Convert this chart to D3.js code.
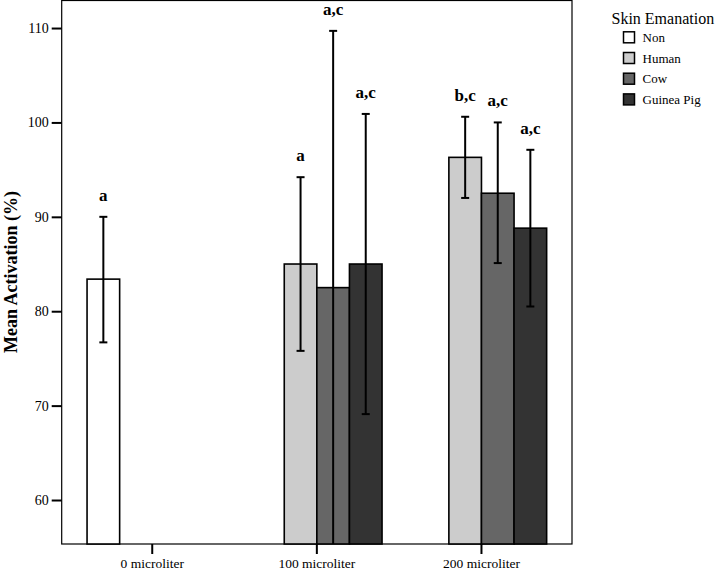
<!DOCTYPE html>
<html><head><meta charset="utf-8">
<script src="https://cdn.jsdelivr.net/npm/d3@7"></script>
<style>html,body{margin:0;padding:0;background:#fff;}svg{display:block;}</style>
</head><body>
<svg id="c" width="720" height="570"></svg>
<script>
const groups = ["0 microliter", "100 microliter", "200 microliter"];
const series = ["Non", "Human", "Cow", "Guinea Pig"];
const seriesColors = ["#ffffff", "#cccccc", "#666666", "#333333"];
// values per series, aligned with groups (null = no bar)
const meanNon = [83.4, null, null];
const meanHuman = [null, 85.0, 96.3];
const meanCow = [null, 82.5, 92.5];
const meanGuinea = [null, 85.0, 88.8];
const upperNon = [90.0, null, null];
const upperHuman = [null, 94.2, 100.6];
const upperCow = [null, 109.7, 100.0];
const upperGuinea = [null, 100.9, 97.1];
const lowerNon = [76.7, null, null];
const lowerHuman = [null, 75.8, 92.0];
const lowerCow = [null, 55.3, 85.1];
const lowerGuinea = [null, 69.1, 80.5];
const lettersNon = ["a", null, null];
const lettersHuman = [null, "a", "b,c"];
const lettersCow = [null, "a,c", "a,c"];
const lettersGuinea = [null, "a,c", "a,c"];
const yTicks = [60, 70, 80, 90, 100, 110];

const means = [meanNon, meanHuman, meanCow, meanGuinea];
const uppers = [upperNon, upperHuman, upperCow, upperGuinea];
const lowers = [lowerNon, lowerHuman, lowerCow, lowerGuinea];
const letters = [lettersNon, lettersHuman, lettersCow, lettersGuinea];

const rows = [];
series.forEach((s, si) => groups.forEach((g, gi) => {
  if (means[si][gi] != null) rows.push({s, si, g, v: means[si][gi], hi: uppers[si][gi], lo: lowers[si][gi], lab: letters[si][gi]});
}));

const L = 61.7, R = 572, T = 0, B = 544;
const font = "'Liberation Serif','Times New Roman',serif";
const svg = d3.select("#c");

const x0 = d3.scaleBand().domain(groups).range([L, R]).paddingInner(0.208).paddingOuter(0.154);
const x1 = d3.scaleBand().domain(series).range([0, x0.bandwidth()]);
const y = d3.scaleLinear().domain([55.34, 112.97]).range([B, T]);

// frame
svg.append("rect").attr("x", L).attr("y", T + 0.5).attr("width", R - L).attr("height", B - T - 0.5)
  .attr("fill", "none").attr("stroke", "#000").attr("stroke-width", 1.2);

// bars
svg.append("g").selectAll("rect").data(rows).join("rect")
  .attr("x", d => x0(d.g) + x1(d.s))
  .attr("y", d => y(d.v))
  .attr("width", x1.bandwidth())
  .attr("height", d => B - y(d.v))
  .attr("fill", d => seriesColors[d.si])
  .attr("stroke", "#000").attr("stroke-width", 1.6);

// error bars
const eg = svg.append("g").attr("stroke", "#000").attr("stroke-width", 2);
rows.forEach(d => {
  const cx = x0(d.g) + x1(d.s) + x1.bandwidth() / 2;
  const yl = Math.min(y(d.lo), B);
  eg.append("line").attr("x1", cx).attr("x2", cx).attr("y1", y(d.hi)).attr("y2", yl);
  eg.append("line").attr("x1", cx - 4).attr("x2", cx + 4).attr("y1", y(d.hi)).attr("y2", y(d.hi));
  if (y(d.lo) < B - 1) eg.append("line").attr("x1", cx - 4).attr("x2", cx + 4).attr("y1", yl).attr("y2", yl);
});

// letters
svg.append("g").selectAll("text").data(rows).join("text")
  .attr("x", d => x0(d.g) + x1(d.s) + x1.bandwidth() / 2)
  .attr("y", d => y(d.hi) - 16)
  .attr("text-anchor", "middle")
  .attr("font-family", font).attr("font-weight", "bold").attr("font-size", 17)
  .text(d => d.lab);

// y axis
const yAxis = d3.axisLeft(y).tickValues(yTicks).tickSize(10).tickPadding(3).tickFormat(d3.format("d"));
const ya = svg.append("g").attr("transform", `translate(${L},0)`).call(yAxis);
ya.select(".domain").remove();
ya.selectAll(".tick line").attr("stroke-width", 2);
ya.selectAll("text").attr("font-family", font).attr("font-size", 14).attr("fill", "#000");

// x axis
const xAxis = d3.axisBottom(x0).tickSize(10).tickPadding(4);
const xa = svg.append("g").attr("transform", `translate(0,${B})`).call(xAxis);
xa.select(".domain").remove();
xa.selectAll(".tick line").attr("stroke-width", 2);
xa.selectAll("text").attr("font-family", font).attr("font-size", 13.5).attr("fill", "#000");

// y title
svg.append("text").attr("transform", `translate(17,${(T + B) / 2}) rotate(-90)`)
  .attr("text-anchor", "middle").attr("font-family", font).attr("font-weight", "bold").attr("font-size", 18)
  .text("Mean Activation (%)");

// legend
const lg = svg.append("g");
lg.append("text").attr("x", 611.5).attr("y", 24).attr("font-family", font).attr("font-size", 16).text("Skin Emanation");
series.forEach((s, i) => {
  const cy = 37.3 + i * 20.7;
  lg.append("rect").attr("x", 623.5).attr("y", cy - 5.5).attr("width", 11).attr("height", 11)
    .attr("fill", seriesColors[i]).attr("stroke", "#000").attr("stroke-width", 1.5);
  lg.append("text").attr("x", 642.5).attr("y", cy + 4.5).attr("font-family", font).attr("font-size", 13).text(s);
});
</script>
</body></html>
